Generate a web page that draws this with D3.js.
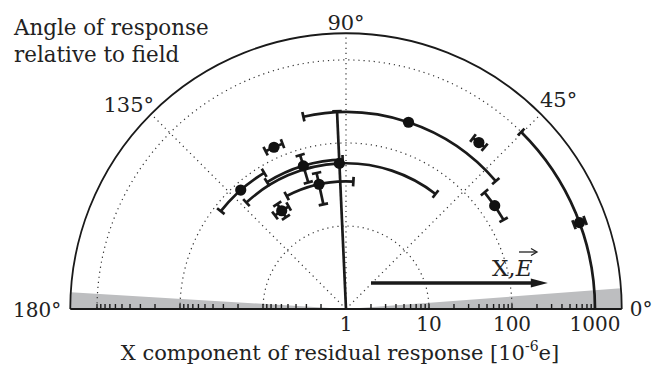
<!DOCTYPE html>
<html>
<head>
<meta charset="utf-8">
<script src="https://cdn.jsdelivr.net/npm/d3@7"></script>
<style>
  body { margin: 0; background: #fff; }
  svg text { font-family: 'DejaVu Serif', serif; fill: #222; }
</style>
</head>
<body>
<svg id="chart" width="657" height="367"></svg>
<script>
// angle of response (deg), angular error (deg), magnitude and radial error bounds [1e-6 e]
const angles    = [71.5, 92.6, 131.5, 106.6, 102.2, 123.2, 114, 51.4, 34.8, 20.3];
const angleErrs = [31,   40.5, 10.5,  15.3,  15.5,  4,     3,   2,    5.3,  25];
const values    = [236,  57,   82,    63,    34.5,  26,    136, 368,  152,  1000];
const valueLo   = [236,  1,    82,    39,    19.5,  21,    136, 368,  152,  850];
const valueHi   = [236,  243,  82,    86,    47.5,  32.5,  136, 368,  152,  1180];

const radialTicks = [1, 10, 100, 1000];
const gridValues = [10, 100, 1000];
const gridAngles = [45, 90, 135];
const angleLabels = ['0°', '45°', '90°', '135°', '180°'];
const shadeRight = [0, 4.3];
const shadeLeft = [176.5, 180];
const arrowValues = [2, 270];

const width = 657, height = 367;
const cx = 346, cy = 309;

const svg = d3.select('#chart');
const r = d3.scaleLog().domain([1, 1000]).range([0, 249]);
const rOuter = r(2100);
const rad = d => d * Math.PI / 180;

function pos(v, deg) {
  const rr = v <= 1 ? 0 : r(v);
  return [cx + rr * Math.cos(rad(deg)), cy - rr * Math.sin(rad(deg))];
}

function arcPath(rr, a0, a1) {
  const p = d3.path();
  p.moveTo(cx + rr * Math.cos(rad(a0)), cy - rr * Math.sin(rad(a0)));
  p.arc(cx, cy, rr, -rad(a0), -rad(a1), true);
  return p.toString();
}

// gray shaded wedges along the axis
const wedge = d3.arc().innerRadius(0).outerRadius(rOuter);
[shadeRight, shadeLeft].forEach(s => {
  svg.append('path')
    .attr('transform', `translate(${cx},${cy})`)
    .attr('d', wedge({ startAngle: rad(90 - s[1]), endAngle: rad(90 - s[0]) }))
    .attr('fill', '#bdbec0');
});

// dotted grid
const grid = svg.append('g').attr('fill', 'none').attr('stroke', '#333')
  .attr('stroke-width', 1.2).attr('stroke-dasharray', '1.2,3.9');
gridValues.forEach(v => grid.append('path').attr('d', arcPath(r(v), 0, 180)));
gridAngles.forEach(a => {
  const e = [cx + rOuter * Math.cos(rad(a)), cy - rOuter * Math.sin(rad(a))];
  grid.append('line').attr('x1', cx).attr('y1', cy).attr('x2', e[0]).attr('y2', e[1]);
});

// outer boundary and baseline
svg.append('path').attr('d', arcPath(rOuter, 0, 180))
  .attr('fill', 'none').attr('stroke', '#1a1a1a').attr('stroke-width', 1.8);
svg.append('line').attr('x1', cx - rOuter).attr('x2', cx + rOuter)
  .attr('y1', cy).attr('y2', cy).attr('stroke', '#1a1a1a').attr('stroke-width', 2);

// log ticks on both halves of the baseline
const minor = [];
[1, 10, 100].forEach(d => { for (let k = 2; k <= 10; k++) minor.push(k * d); });
const tickG = svg.append('g').attr('stroke', '#1a1a1a').attr('stroke-width', 1.4);
minor.forEach(v => {
  [1, -1].forEach(sgn => {
    tickG.append('line').attr('x1', cx + sgn * r(v)).attr('x2', cx + sgn * r(v))
      .attr('y1', cy).attr('y2', cy - 5);
  });
});

radialTicks.forEach(v => {
  svg.append('text').attr('x', cx + r(v)).attr('y', 331)
    .attr('text-anchor', 'middle').attr('font-size', 20).text(v);
});

// angle labels
const e45 = rOuter * Math.cos(rad(45));
svg.append('text').attr('x', cx + rOuter + 8).attr('y', 316).attr('font-size', 20).text(angleLabels[0]);
svg.append('text').attr('x', cx - rOuter - 9).attr('y', 317).attr('text-anchor', 'end').attr('font-size', 20).text(angleLabels[4]);
svg.append('text').attr('x', cx).attr('y', 29.5).attr('text-anchor', 'middle').attr('font-size', 21).text(angleLabels[2]);
svg.append('text').attr('x', cx + e45 - 1).attr('y', 107).attr('font-size', 21).text(angleLabels[1]);
svg.append('text').attr('x', cx - e45 + 3).attr('y', 112).attr('text-anchor', 'end').attr('font-size', 21).text(angleLabels[3]);

// titles
const t1 = svg.append('text').attr('font-size', 21.4);
t1.append('tspan').attr('x', 14).attr('y', 35).text('Angle of response');
t1.append('tspan').attr('x', 14).attr('y', 62).text('relative to field');

const xt = svg.append('text').attr('x', cx - 6).attr('y', 360).attr('text-anchor', 'middle').attr('font-size', 21);
xt.append('tspan').text('X component of residual response [10');
xt.append('tspan').attr('font-size', 14).attr('dy', -9).text('-6');
xt.append('tspan').attr('dy', 9).text('e]');

// field direction arrow
const ax0 = cx + r(arrowValues[0]), ax1 = cx + r(arrowValues[1]), ay = 283;
svg.append('line').attr('x1', ax0).attr('x2', ax1 - 14).attr('y1', ay).attr('y2', ay)
  .attr('stroke', '#1a1a1a').attr('stroke-width', 3.5);
svg.append('path').attr('d', d3.line()([[ax1 - 17, ay - 4.5], [ax1, ay], [ax1 - 17, ay + 4.5]]) + 'Z')
  .attr('fill', '#1a1a1a');
const lab = svg.append('text').attr('x', 492).attr('y', 276).attr('font-size', 23);
lab.append('tspan').text('X,');
lab.append('tspan').attr('font-style', 'italic').text('E');
svg.append('line').attr('x1', 519).attr('x2', 536).attr('y1', 252).attr('y2', 252)
  .attr('stroke', '#222').attr('stroke-width', 1.3);
svg.append('path').attr('d', 'M531,248.5 L537,252 L531,255.5').attr('fill', 'none')
  .attr('stroke', '#222').attr('stroke-width', 1.3);

// data points with angular (arc) and radial error bars
const cap = 9.5;
const pts = svg.append('g').attr('stroke', '#1a1a1a').attr('fill', 'none')
  .attr('stroke-width', 2.7);
values.forEach((v, i) => {
  const a = angles[i], e = angleErrs[i];
  const a0 = Math.max(0, a - e), a1 = Math.min(180, a + e);
  const rr = r(v);
  if (e > 0) {
    pts.append('path').attr('d', arcPath(rr, a0, a1));
    [a0, a1].forEach(ae => {
      if (ae <= 0 || ae >= 180) return;
      const c = Math.cos(rad(ae)), s = Math.sin(rad(ae));
      pts.append('line')
        .attr('x1', cx + (rr - cap / 2) * c).attr('y1', cy - (rr - cap / 2) * s)
        .attr('x2', cx + (rr + cap / 2) * c).attr('y2', cy - (rr + cap / 2) * s);
    });
  }
  if (valueHi[i] > valueLo[i]) {
    const p0 = pos(valueLo[i], a), p1 = pos(valueHi[i], a);
    pts.append('line').attr('x1', p0[0]).attr('y1', p0[1]).attr('x2', p1[0]).attr('y2', p1[1]);
    const tx = -Math.sin(rad(a)), ty = -Math.cos(rad(a));
    [valueLo[i], valueHi[i]].forEach(bv => {
      if (bv <= 1) return;
      const p = pos(bv, a);
      pts.append('line')
        .attr('x1', p[0] - tx * cap / 2).attr('y1', p[1] - ty * cap / 2)
        .attr('x2', p[0] + tx * cap / 2).attr('y2', p[1] + ty * cap / 2);
    });
  }
  const c = pos(v, a);
  svg.append('circle').attr('cx', c[0]).attr('cy', c[1]).attr('r', 5.6).attr('fill', '#111');
});
</script>
</body>
</html>
